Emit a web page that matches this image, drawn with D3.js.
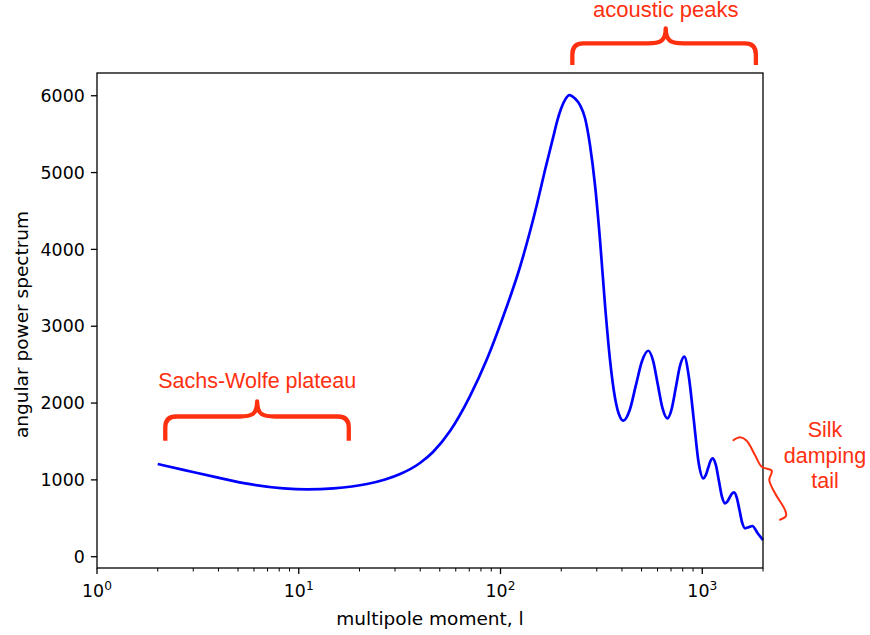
<!DOCTYPE html>
<html><head><meta charset="utf-8">
<script src="https://cdn.jsdelivr.net/npm/d3@7"></script>
<style>body{margin:0;background:#fff}</style>
</head><body>
<svg id="chart" width="870" height="635"></svg>
<script>
// ---- data ----
const ell = [2, 2.68, 3.93, 5.74, 8.4, 11, 14.9, 21.8, 26.8, 31.8, 39.9, 46.3, 56.2, 70.6, 85.7, 102.9, 124.9, 151.7, 166.2, 182.7, 190.6, 199.5, 208.8, 219.3,
  234, 247.7, 262.3, 277.6, 294, 311.3, 329.6, 349, 369.5, 391.2, 406.2,
  436.1, 468.3, 503.0, 540.2, 570.3, 602.0, 635.7, 671.2, 704.5, 739.5, 776.2, 814.7,
  859.6, 907.9, 958.1, 1012.1, 1039.6, 1068.0, 1097.1, 1126.9, 1167.5, 1209.0, 1251.8, 1296.9,
  1330.6, 1365.2, 1400.7, 1437.2, 1482.6, 1530.0, 1578.4, 1628.8, 1698.2, 1770.6, 1881.4, 2000];
const power = [1206, 1131, 1033, 944, 890, 877, 890, 946, 1005, 1076, 1220, 1363, 1636, 2091, 2573, 3120, 3771, 4591, 5033, 5467, 5664, 5831, 5946, 6009,
  5964, 5879, 5710, 5359, 4838, 4122, 3276, 2560, 2066, 1818, 1770,
  1903, 2226, 2548, 2681, 2552, 2241, 1930, 1801, 1919, 2202, 2486, 2603,
  2326, 1779, 1233, 1020, 1058, 1151, 1243, 1281, 1195, 988, 781, 695,
  716, 767, 817, 838, 769, 604, 439, 370, 384, 400, 305, 217];
const yTicks = [0, 1000, 2000, 3000, 4000, 5000, 6000];
const xMajorTicks = [1, 10, 100, 1000];
const xTickExponents = ["0", "1", "2", "3"];
const xLabel = "multipole moment, l";
const yLabel = "angular power spectrum";
// annotation braces (data coordinates): [l left, l right, l tip, base, bar, tip]
const braceSW = [2.18, 17.7, 6.22, 1510, 1825, 2021];
const braceAP = [227, 1844, 659, 6400, 6682, 6877];
const labelSW = "Sachs-Wolfe plateau";
const labelAP = "acoustic peaks";
const labelSilk = ["Silk", "damping", "tail"];
const silkL = [1416, 1538, 1660, 1824, 1972, 2210, 2149, 2295, 2571, 2601, 2410];
const silkV = [1510, 1554, 1510, 1324, 1171, 1119, 998, 825, 608, 530, 478];

// ---- setup ----
const svg = d3.select("#chart");
const L = 97, R = 763, T = 73, B = 568;
const x = d3.scaleLog().domain([1, 2000]).range([L, R]);
const y = d3.scaleLinear().domain([-147, 6296]).range([B, T]);
const tickFont = "'DejaVu Sans', sans-serif";
const annFont = "'Liberation Sans', Arial, Helvetica, sans-serif";
const red = "#ff3010";
const fs = 17.4;
const fsLabel = 18.5;

svg.append("rect").attr("width", 870).attr("height", 635).attr("fill", "#fff");

// data line
const pts = ell.map((l, i) => [l, power[i]]);
svg.append("path")
  .datum(pts)
  .attr("fill", "none").attr("stroke", "#0000ff").attr("stroke-width", 2.7)
  .attr("stroke-linejoin", "round").attr("stroke-linecap", "butt")
  .attr("d", d3.line().x(d => x(d[0])).y(d => y(d[1])).curve(d3.curveMonotoneX));

// frame
svg.append("rect").attr("x", L).attr("y", T).attr("width", R - L).attr("height", B - T)
  .attr("fill", "none").attr("stroke", "#000").attr("stroke-width", 1.3);

// x ticks
const minor = [];
xMajorTicks.forEach(d => { for (let k = 2; k <= 9; k++) { if (k * d <= 2000) minor.push(k * d); } });
const gx = svg.append("g");
gx.selectAll("line.maj").data(xMajorTicks).join("line")
  .attr("x1", d => x(d)).attr("x2", d => x(d)).attr("y1", B).attr("y2", B + 6.1)
  .attr("stroke", "#000").attr("stroke-width", 1.3);
gx.selectAll("line.min").data(minor).join("line")
  .attr("x1", d => x(d)).attr("x2", d => x(d)).attr("y1", B).attr("y2", B + 3.5)
  .attr("stroke", "#000").attr("stroke-width", 1.0);
const xt = gx.selectAll("text").data(xMajorTicks).join("text")
  .attr("x", d => x(d)).attr("y", 597).attr("text-anchor", "middle")
  .attr("font-family", tickFont).attr("font-size", fs).attr("fill", "#000");
xt.append("tspan").text("10");
xt.append("tspan").attr("dy", -7.5).attr("font-size", 12.2).text((d, i) => xTickExponents[i]);

// y ticks
const gy = svg.append("g");
gy.selectAll("line").data(yTicks).join("line")
  .attr("x1", L - 6.1).attr("x2", L).attr("y1", d => y(d)).attr("y2", d => y(d))
  .attr("stroke", "#000").attr("stroke-width", 1.3);
gy.selectAll("text").data(yTicks).join("text")
  .attr("x", L - 12.2).attr("y", d => y(d) + 6.2).attr("text-anchor", "end")
  .attr("font-family", tickFont).attr("font-size", fs).attr("fill", "#000")
  .text(d => d);

// axis labels
svg.append("text").attr("x", (L + R) / 2).attr("y", 624.5).attr("text-anchor", "middle")
  .attr("font-family", tickFont).attr("font-size", fsLabel).text(xLabel);
svg.append("text").attr("transform", `translate(28,${(T + B) / 2 + 4}) rotate(-90)`)
  .attr("text-anchor", "middle").attr("font-family", tickFont).attr("font-size", fsLabel).text(yLabel);

// braces
function brace(b) {
  const x1 = x(b[0]), x2 = x(b[1]), xm = x(b[2]);
  const yb = y(b[3]), yh = y(b[4]), yt = y(b[5]);
  const r = 11, tw = 18;
  return `M${x1},${yb} L${x1},${yh + r} Q${x1},${yh} ${x1 + r},${yh} L${xm - tw},${yh} ` +
    `C${xm - tw * 0.3},${yh} ${xm},${yh - 2} ${xm},${yt} ` +
    `C${xm},${yh - 2} ${xm + tw * 0.3},${yh} ${xm + tw},${yh} L${x2 - r},${yh} ` +
    `Q${x2},${yh} ${x2},${yh + r} L${x2},${yb}`;
}
[braceSW, braceAP].forEach(b => {
  svg.append("path").attr("d", brace(b)).attr("fill", "none")
    .attr("stroke", red).attr("stroke-width", 4.3).attr("stroke-linejoin", "round");
});
svg.append("text").attr("x", x(braceSW[2])).attr("y", y(braceSW[5]) - 13.5)
  .attr("text-anchor", "middle").attr("font-family", annFont).attr("font-size", 21.5)
  .attr("fill", red).text(labelSW);
svg.append("text").attr("x", x(braceAP[2])).attr("y", y(braceAP[5]) - 11)
  .attr("text-anchor", "middle").attr("font-family", annFont).attr("font-size", 22)
  .attr("fill", red).text(labelAP);

// silk squiggle
svg.append("path").datum(silkL.map((l, i) => [l, silkV[i]]))
  .attr("fill", "none").attr("stroke", red).attr("stroke-width", 2).attr("stroke-linejoin", "round")
  .attr("d", d3.line().x(d => x(d[0])).y(d => y(d[1])).curve(d3.curveCatmullRom.alpha(0.5)));
const st = svg.append("text").attr("text-anchor", "middle")
  .attr("font-family", annFont).attr("font-size", 21.5).attr("fill", red);
labelSilk.forEach((s, i) => {
  st.append("tspan").attr("x", 825).attr("y", 436.7 + i * 25.8).text(s);
});
</script>
</body></html>
